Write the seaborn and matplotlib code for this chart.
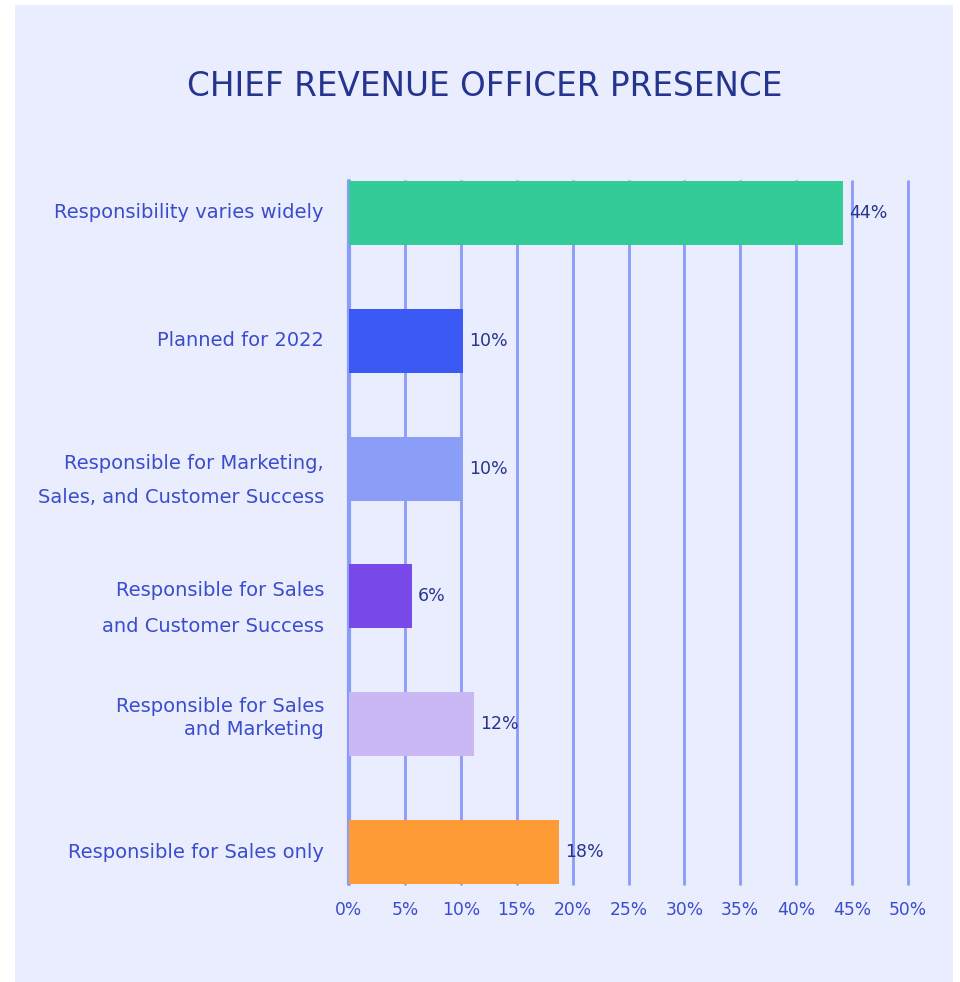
import matplotlib
matplotlib.use("Agg")
import matplotlib.pyplot as plt
import matplotlib.patches as mpatches
from matplotlib.transforms import ScaledTranslation
import seaborn as sns
import pandas as pd

categories = [
    "Responsibility varies widely",
    "Planned for 2022",
    "Responsible for Marketing,\nSales, and Customer Success",
    "Responsible for Sales\nand Customer Success",
    "Responsible for Sales\nand Marketing",
    "Responsible for Sales only",
]
bar_values = [44.2, 10.2, 10.2, 5.6, 11.2, 18.8]
value_labels = ["44%", "10%", "10%", "6%", "12%", "18%"]
bar_colors = ["#33CC99", "#3B5AF5", "#8A9EF8", "#7848E8", "#CAB8F5", "#FF9B35"]
x_ticks = [0, 5, 10, 15, 20, 25, 30, 35, 40, 45, 50]
x_tick_labels = [f"{t}%" for t in x_ticks]
title = "CHIEF REVENUE OFFICER PRESENCE"

sns.set_theme(style="white")
plt.rcParams["font.family"] = ["DejaVu Sans"]

PANEL = "#EAEDFD"
GRID = "#8A9BF8"
LABEL = "#3A4DCC"
DARK = "#25358F"

W, H = 960, 982
fig = plt.figure(figsize=(W / 100, H / 100), dpi=100, facecolor="white")
fig.patches.append(mpatches.Rectangle((15 / W, 0), (953 - 15) / W, (H - 5) / H,
                                      transform=fig.transFigure, facecolor=PANEL,
                                      edgecolor="none", zorder=-10))

ax = fig.add_axes([349 / W, 1 - 884 / H, (908 - 349) / W, (884 - 181) / H])
ax.set_facecolor("none")
ax.set_zorder(5)

df = pd.DataFrame({"category": categories, "value": bar_values})
sns.barplot(data=df, x="value", y="category", hue="category", palette=bar_colors,
            legend=False, orient="h", width=0.5, ax=ax, zorder=3, saturation=1,
            linewidth=0)

ax.set_xlim(0, 50)
ax.set_ylim(len(categories) - 1 + 0.25, -0.25)
ax.set_xticks(x_ticks)
ax.set_xticklabels(x_tick_labels)
for t in x_ticks:
    ax.axvline(t, color=GRID, lw=2 if t else 3, zorder=1, clip_on=False)
for s in ax.spines.values():
    s.set_visible(False)
ax.tick_params(axis="x", length=0, pad=12, labelsize=12.3, labelcolor=LABEL)
ax.set_yticks(range(len(categories)))
ax.set_yticklabels([""] * len(categories))
ax.tick_params(axis="y", length=0)
ax.set_xlabel("")
ax.set_ylabel("")

# category labels
ytr = ax.get_yaxis_transform()
spacing = [1.0, 1.0, 1.95, 2.15, 1.3, 1.0]
yshift = [0, 0, -12, -12, 6, 0]
for i, (c, ls, dy) in enumerate(zip(categories, spacing, yshift)):
    off = ScaledTranslation(-25 / 100, dy / 100, fig.dpi_scale_trans)
    ax.text(0, i, c, transform=ytr + off, ha="right", va="center",
            fontsize=14, color=LABEL, linespacing=ls, multialignment="right")

# value labels
for i, (v, lab) in enumerate(zip(bar_values, value_labels)):
    off = ScaledTranslation(6 / 100, 0, fig.dpi_scale_trans)
    ax.text(v, i, lab, transform=ax.transData + off, ha="left", va="center",
            fontsize=12.5, color=DARK, zorder=5)

fig.text(485 / W, 1 - 86 / H, title, ha="center", va="center",
         fontsize=23.5, color=DARK)

fig.savefig("out.png", dpi=100, facecolor="white")
